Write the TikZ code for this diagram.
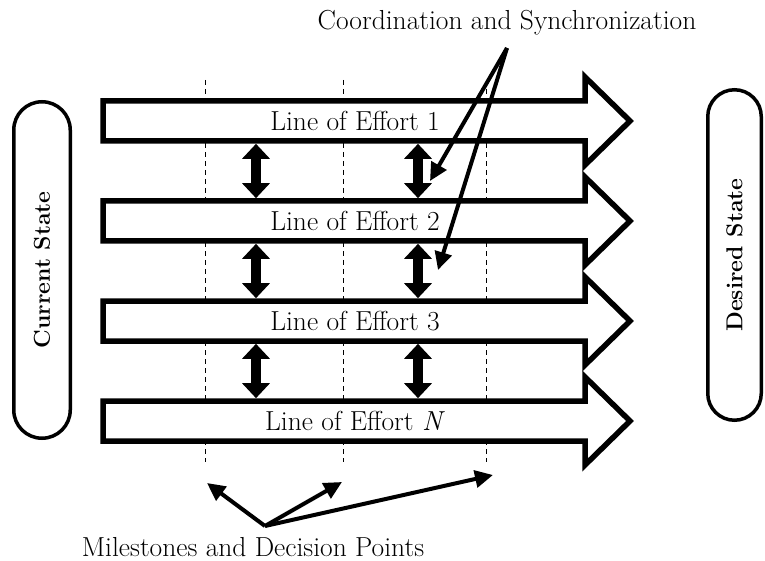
\documentclass[tikz,border=0pt]{standalone}
\usetikzlibrary{arrows.meta,shapes.misc}
\begin{document}
\begin{tikzpicture}[x=1pt,y=-1pt,
  loe/.style={draw=black, fill=white, line width=5.5pt, line join=miter},
  dashline/.style={draw=black, line width=0.8pt, dash pattern=on 5pt off 4pt},
  dblarrow/.style={draw=black, line width=10pt, {Triangle[length=15pt,width=27pt]}-{Triangle[length=15pt,width=27pt]}},
  ptr/.style={draw=black, line width=4pt, -{Triangle[length=18pt,width=17pt]}},
  lbl/.style={font=\fontsize{27.5}{32}\selectfont, inner sep=0pt},
  statebox/.style={draw=black, line width=3.5pt, rounded rectangle, rotate=90, inner sep=0pt, font=\fontsize{23}{27}\selectfont\bfseries}
]
\useasboundingbox (0,0) rectangle (765,561);
% milestone dashed lines
\foreach \x/\n in {205/a,343/b,486/c}{
  \coordinate (top\n) at (\x,80);
  \coordinate (bot\n) at (\x,462);
  \draw[dashline] (top\n) -- (bot\n);
}
% lines of effort
\foreach \c/\t/\n in {121/1/1,221/2/2,321/3/3,421/{\textit{N}}/4}{
  \draw[loe] (103,{\c-20}) -- (585,{\c-20}) -- (585,{\c-44}) -- (630,\c) -- (585,{\c+44}) -- (585,{\c+20}) -- (103,{\c+20}) -- cycle;
  \node[lbl] (loe\n) at (355,\c) {Line of Effort \t};
}
% coordination double arrows
\foreach \x/\n in {256/l,418/r}{
  \coordinate (\n a1) at (\x,143.8); \coordinate (\n b1) at (\x,198.2);
  \coordinate (\n a2) at (\x,243.8); \coordinate (\n b2) at (\x,298.2);
  \coordinate (\n a3) at (\x,343.8); \coordinate (\n b3) at (\x,398.2);
  \draw[dblarrow] (\n a1) -- (\n b1);
  \draw[dblarrow] (\n a2) -- (\n b2);
  \draw[dblarrow] (\n a3) -- (\n b3);
}
% state boxes
\node[statebox, minimum width=336.5pt, minimum height=56.5pt] (cur) at (42,270) {Current State};
\node[statebox, minimum width=330.5pt, minimum height=53.5pt] (des) at (734.5,255) {Desired State};
% coordination label
\node[lbl] (coord) at (507,23) {Coordination and Synchronization};
\coordinate (cs) at (507,48);
\coordinate (cs1) at (430,181);
\coordinate (cs2) at (438,270);
\draw[ptr] (cs) -- (cs1);
\draw[ptr] (cs) -- (cs2);
% milestones label
\node[lbl] (mile) at (253,547) {Milestones and Decision Points};
\coordinate (ms) at (265,526);
\coordinate (ms1) at (207,483);
\coordinate (ms2) at (342,482);
\coordinate (ms3) at (493,475);
\draw[ptr] (ms) -- (ms1);
\draw[ptr] (ms) -- (ms2);
\draw[ptr] (ms) -- (ms3);
\end{tikzpicture}
\end{document}
